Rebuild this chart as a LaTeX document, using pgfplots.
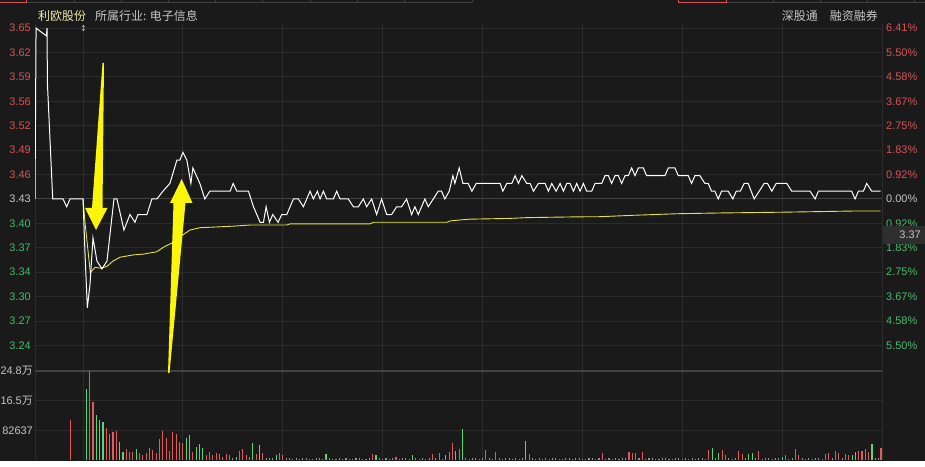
\documentclass[border=0pt]{standalone}
\usepackage{pgfplots}
\pgfplotsset{compat=1.18}
\usepackage{fontspec}
\setmainfont{Liberation Sans}
\newfontfamily\cjk{Noto Sans CJK SC}
\newfontfamily\sym{DejaVu Sans}
\definecolor{bg}{RGB}{26,26,26}
\definecolor{gridc}{RGB}{44,44,44}
\definecolor{midc}{RGB}{66,66,66}
\definecolor{lred}{RGB}{214,84,84}
\definecolor{lgreen}{RGB}{72,186,110}
\definecolor{lgray}{RGB}{196,196,196}
\definecolor{bred}{RGB}{228,90,90}
\definecolor{bgreen}{RGB}{86,214,122}
\definecolor{bgray}{RGB}{150,150,150}
\definecolor{avgy}{RGB}{230,225,70}
\definecolor{arrowy}{RGB}{250,245,10}
\definecolor{namey}{RGB}{236,230,170}
\definecolor{boxc}{RGB}{46,46,46}

\pgfplotsset{
  base/.style={scale only axis, width=847bp, xmin=-14.42, xmax=240,
    axis line style={draw=none}, major tick length=0pt,
    xtick={-14.42,0,30,60,90,120,150,180,210,240}, xticklabels={},
    grid style={gridc, line width=1bp},
    tick label style={font=\fontsize{11}{12}\selectfont}},
}

\begin{document}
\begin{tikzpicture}
\begin{scope}[x=1bp,y=1bp]
\useasboundingbox (0,0) rectangle (925,461);
\fill[bg] (0,0) rectangle (925,461);
% top tab strip
\draw[midc, line width=0.8bp] (0,458.5) -- (472,458.5);
\draw[midc, line width=0.8bp] (678,458.5) -- (925,458.5);
\foreach \xx in {74,121,168,215,262,310,357,404,472,773,820,867,914}
  \draw[midc, line width=0.8bp] (\xx,458.5) -- (\xx,461);
\draw[lred, line width=0.8bp] (0,458.5) -- (26.5,458.5) -- (26.5,461);
\draw[lred, line width=0.8bp] (678,461) -- (678,458.5) -- (726,458.5) -- (726,461);
\end{scope}

% ---------------- price panel ----------------
\begin{axis}[base, at={(35bp,101bp)}, anchor=south west, height=336bp,
  ymin=3.22271, ymax=3.65531,
  xmajorgrids, ymajorgrids,
  ytick={3.2415,3.2729,3.3043,3.3358,3.3672,3.3986,3.43,3.4614,3.4928,3.5243,3.5557,3.5871,3.6185,3.6499},
  yticklabels={\textcolor{lgreen}{3.24},\textcolor{lgreen}{3.27},\textcolor{lgreen}{3.30},\textcolor{lgreen}{3.34},\textcolor{lgreen}{3.37},\textcolor{lgreen}{3.40},\textcolor{lgray}{3.43},\textcolor{lred}{3.46},\textcolor{lred}{3.49},\textcolor{lred}{3.52},\textcolor{lred}{3.56},\textcolor{lred}{3.59},\textcolor{lred}{3.62},\textcolor{lred}{3.65}},
  yticklabel style={anchor=east, inner sep=0pt, xshift=-4bp},
]
\draw[midc, line width=1bp] (axis cs:-14.42,3.43) -- (axis cs:240,3.43);
% average price (yellow)
\addplot[avgy, line width=0.9bp] coordinates {
(0,3.43)(0.6,3.40)(2.2,3.335)(3.6,3.342)(5.1,3.341)(7.1,3.343)(9.0,3.350)(11.1,3.355)(15.1,3.358)(18.1,3.359)(22.1,3.362)(24.6,3.369)(26.6,3.373)(27.6,3.378)(30.1,3.384)(32.1,3.390)(35.1,3.393)(40.2,3.394)(45.1,3.395)(50.2,3.3965)(61.2,3.3965)(62.2,3.398)(86.2,3.398)(87.2,3.400)(109.3,3.400)(110.2,3.4017)(113.2,3.403)(116.2,3.404)(128.3,3.405)(133.3,3.406)(148.3,3.407)(155.3,3.4072)(165.3,3.409)(178.3,3.411)(191.3,3.412)(210.4,3.413)(231.4,3.4145)(239.6,3.4145)};
% price (white)
\addplot[white, line width=1bp] coordinates {
(-14.42,3.43)(-14.1,3.65)(-11.0,3.64)(-10.8,3.65)(-10.7,3.58)(-9.1,3.43)(-6.0,3.43)(-4.9,3.42)(-3.9,3.43)(0,3.43)
(0.6,3.36)(1.3,3.29)(2.1,3.32)(3.0,3.38)(4.2,3.35)(5.7,3.34)(7.2,3.35)(9.3,3.43)(10.2,3.43)(12.3,3.39)(14.1,3.41)(15.6,3.40)(16.5,3.41)(19.2,3.41)(20.7,3.43)(22.2,3.43)(24.0,3.44)(26.1,3.45)(28.2,3.48)(29.1,3.48)(30.0,3.49)(31.2,3.48)(32.4,3.45)(33.0,3.47)(35.1,3.45)(36.6,3.43)(38.1,3.44)(44.2,3.44)(45.1,3.45)(46.2,3.44)(49.7,3.44)(51.2,3.42)(53.2,3.40)(54.2,3.40)(55.0,3.42)(56.0,3.40)(57.0,3.41)(58.6,3.40)(59.7,3.41)(61.2,3.41)(63.2,3.43)(64.7,3.43)(66.2,3.42)(68.2,3.44)(69.2,3.43)(70.4,3.44)(71.2,3.43)(72.2,3.44)(73.2,3.43)(75.2,3.43)(76.2,3.44)(77.2,3.43)(79.7,3.43)(81.2,3.42)(82.7,3.42)(84.2,3.43)(85.2,3.42)(86.7,3.43)(88.2,3.41)(89.7,3.43)(91.2,3.41)(92.7,3.41)(94.2,3.42)(95.7,3.42)(97.2,3.43)(98.7,3.41)(99.7,3.42)(100.7,3.41)(102.7,3.43)(103.7,3.42)(105.2,3.43)(106.7,3.44)(107.7,3.44)(108.7,3.43)(110.0,3.44)(111.1,3.46)(111.7,3.45)(113.0,3.47)(114.1,3.45)(115.7,3.45)(116.8,3.44)(118.1,3.45)(125.3,3.45)(126.1,3.44)(127.3,3.45)(128.8,3.45)(129.8,3.46)(130.8,3.45)(131.8,3.46)(133.3,3.45)(134.3,3.45)(135.3,3.44)(136.8,3.45)(138.8,3.45)(139.8,3.44)(140.8,3.45)(142.1,3.44)(143.3,3.45)(144.3,3.44)(145.3,3.45)(146.3,3.45)(147.3,3.44)(148.3,3.45)(149.3,3.44)(150.3,3.45)(151.3,3.44)(152.8,3.44)(153.8,3.45)(155.8,3.45)(156.8,3.46)(157.8,3.46)(158.8,3.45)(159.8,3.46)(160.8,3.46)(161.8,3.45)(162.8,3.46)(163.8,3.46)(164.8,3.47)(165.8,3.46)(166.8,3.47)(168.3,3.47)(169.3,3.46)(174.8,3.46)(175.8,3.47)(177.8,3.47)(178.8,3.46)(181.8,3.46)(182.8,3.45)(183.8,3.46)(185.3,3.46)(186.8,3.45)(187.8,3.45)(188.8,3.44)(189.8,3.44)(190.8,3.43)(191.8,3.44)(193.8,3.44)(195.2,3.43)(196.2,3.44)(197.4,3.44)(198.6,3.45)(199.8,3.45)(201.6,3.43)(203.1,3.44)(204.6,3.45)(205.6,3.45)(206.9,3.44)(208.2,3.45)(211.4,3.45)(212.9,3.44)(218.4,3.44)(219.9,3.43)(220.9,3.44)(230.9,3.44)(231.9,3.43)(232.9,3.44)(234.4,3.44)(235.4,3.45)(236.9,3.44)(239.6,3.44)};
\end{axis}

% right percentage labels
\begin{axis}[base, at={(35bp,101bp)}, anchor=south west, height=336bp,
  ymin=3.22271, ymax=3.65531, hide x axis, axis y line*=right,
  ytick={3.2415,3.2729,3.3043,3.3358,3.3672,3.3986,3.43,3.4614,3.4928,3.5243,3.5557,3.5871,3.6185,3.6499},
  yticklabels={\textcolor{lgreen}{5.50\%},\textcolor{lgreen}{4.58\%},\textcolor{lgreen}{3.67\%},\textcolor{lgreen}{2.75\%},\textcolor{lgreen}{1.83\%},\textcolor{lgreen}{0.92\%},\textcolor{lgray}{0.00\%},\textcolor{lred}{0.92\%},\textcolor{lred}{1.83\%},\textcolor{lred}{2.75\%},\textcolor{lred}{3.67\%},\textcolor{lred}{4.58\%},\textcolor{lred}{5.50\%},\textcolor{lred}{6.41\%}},
  yticklabel style={anchor=west, inner sep=0pt, xshift=4bp},
]
\end{axis}

% ---------------- volume panel ----------------
\begin{axis}[base, at={(35bp,1bp)}, anchor=south west, height=100bp,
  ymin=0, ymax=278200, xmajorgrids, ymajorgrids, scaled y ticks=false,
  ytick={82637,165000,248000},
  yticklabels={82637,16.5{\cjk 万},24.8{\cjk 万}},
  yticklabel style={anchor=east, inner sep=0pt, xshift=-2bp, text=lgray},
]
\draw[midc, line width=1.6bp] (axis cs:-14.42,248000) -- (axis cs:240,248000);
\addplot[ycomb, bgray, line width=1.1bp] coordinates {
(45,5000)(50,7000)(55,5000)(56,5000)(57,5000)(61,5000)(62,5000)
(63,4000)(64,5000)(65,3500)(66,4500)(67,5000)(68,4000)(69,3500)(70,5000)(71,4500)(72,4000)
(74,5000)(75,4000)(76,3500)(77,4500)(78,4000)(79,5000)(80,3500)(81,4000)(82,4500)(83,5000)(84,4000)(85,3500)(86,4500)
(89,5000)(90,4000)(91,4500)(92,3500)(93,5000)(95,4000)(96,4500)(97,5000)(98,4000)
(100,4500)(101,3500)(102,5000)(103,4000)(104,4500)(106,5000)(108,4000)
(115,5000)(116,4000)(117,4500)(118,5000)(119,3500)(120,6000)(122,4500)(123,4000)
(125,5000)(126,4000)(127,4500)(128,5000)(129,3500)(130,5500)(131,4000)(132,4500)
(135,5000)(136,4000)(137,4500)(138,3500)(139,5000)(140,4000)(141,4500)(142,5000)(143,4000)(144,3500)(145,4500)(146,5000)(147,4000)(148,4500)(149,5000)(150,3500)(151,4000)(152,4500)(153,5000)(154,4000)(155,4500)
(157,4000)(158,5000)(159,3500)(160,4500)(161,4000)(162,5000)(163,4500)(167,5000)
(169,4000)(170,4500)(171,5000)(172,3500)(173,4000)(174,4500)(175,5000)(176,4000)(177,3500)(178,4500)(179,5000)(180,4000)(181,4500)(182,3500)(183,5000)(184,4000)(185,4500)(186,5000)(187,4000)
(190,5000)(194,4500)(195,4000)(196,5000)(199,4500)(202,5000)
(204,4000)(205,4500)(206,5000)(207,3500)(208,4500)(209,5000)(212,4000)(213,4500)
(216,5000)(217,4000)(218,4500)(219,3500)(220,5000)(221,4500)(222,4000)(225,5000)(228,4500)(238,5000)(239,4500)};
\addplot[ycomb, bred, line width=1.1bp] coordinates {
(-3.7,111000)(2,248000)(3,162000)(7,88000)(8,72000)(9,79000)(10,82000)(13,30000)(14,23000)(15,23000)(17,19000)(18,14000)(19,20000)(20,32000)(21,28000)(22,20000)(23,58000)(24,81000)(25,62000)(26,26000)(27,79000)(28,72000)(29,51000)(30,48000)(33,23000)(37,14000)(38,23000)(39,14000)(40,20000)(41,17000)(42,9000)(43,17000)(44,14000)(47,26000)(48,30000)(49,14000)(52,17000)(54,19000)(59,19000)(60,14000)(87,16000)(94,9000)(105,18000)(107,20000)(110,23000)(111,48000)(113,31000)(121,28000)(124,23000)(134,18000)(156,19000)(164,23000)(165,19000)(166,20000)(168,23000)(188,28000)(192,28000)(193,14000)(197,26000)(198,17000)(203,26000)(211,14000)(214,30000)(215,14000)(223,17000)(224,19000)(226,26000)(227,19000)(229,17000)(230,14000)(233,26000)(234,26000)(235,30000)(236,21000)(239.7,34000)};
\addplot[ycomb, bgreen, line width=1.1bp] coordinates {
(1,197000)(4,125000)(5,111000)(6,107000)(11,51000)(12,23000)(16,30000)(31,60000)(32,70000)(34,35000)(35,45000)(36,32000)(46,9000)(51,46000)(53,42000)(58,14000)(73,16000)(88,14000)(99,14000)(109,14000)(112,26000)(114,86000)(133,54000)(189,34000)(191,19000)(200,17000)(201,20000)(210,9000)(231,14000)(232,21000)(237,44000)};
\end{axis}

\begin{scope}[x=1bp,y=1bp]
% header texts
\node[anchor=west, inner sep=0pt, text=namey, font=\cjk\fontsize{12}{13}\selectfont] at (38,445) {利欧股份};
\node[anchor=west, inner sep=0pt, text=lgray, font=\cjk\fontsize{12}{13}\selectfont] at (95,445) {所属行业: 电子信息};
\node[anchor=east, inner sep=0pt, text=lgray, font=\cjk\fontsize{12}{13}\selectfont] at (818,445) {深股通};
\node[anchor=east, inner sep=0pt, text=lgray, font=\cjk\fontsize{12}{13}\selectfont] at (878,445) {融资融券};
\node[inner sep=0pt, text=lgray, font=\sym\fontsize{8}{8}\selectfont] at (83.5,432) {↕};
% price box on right
\fill[boxc] (883,217) rectangle (925,235);
\node[anchor=east, inner sep=0pt, text=lgray, font=\fontsize{11}{12}\selectfont] at (921,226) {3.37};
% yellow annotation arrows
\fill[arrowy] (102.5,398) -- (104,398) -- (102.5,253) -- (107.5,253) -- (96,231) -- (85,253) -- (92,253) -- cycle;
\fill[arrowy] (168,88) -- (169.5,88) -- (185.5,258) -- (192.5,258) -- (181.7,282) -- (170,258) -- (173.5,258) -- cycle;
\end{scope}
\end{tikzpicture}
\end{document}
